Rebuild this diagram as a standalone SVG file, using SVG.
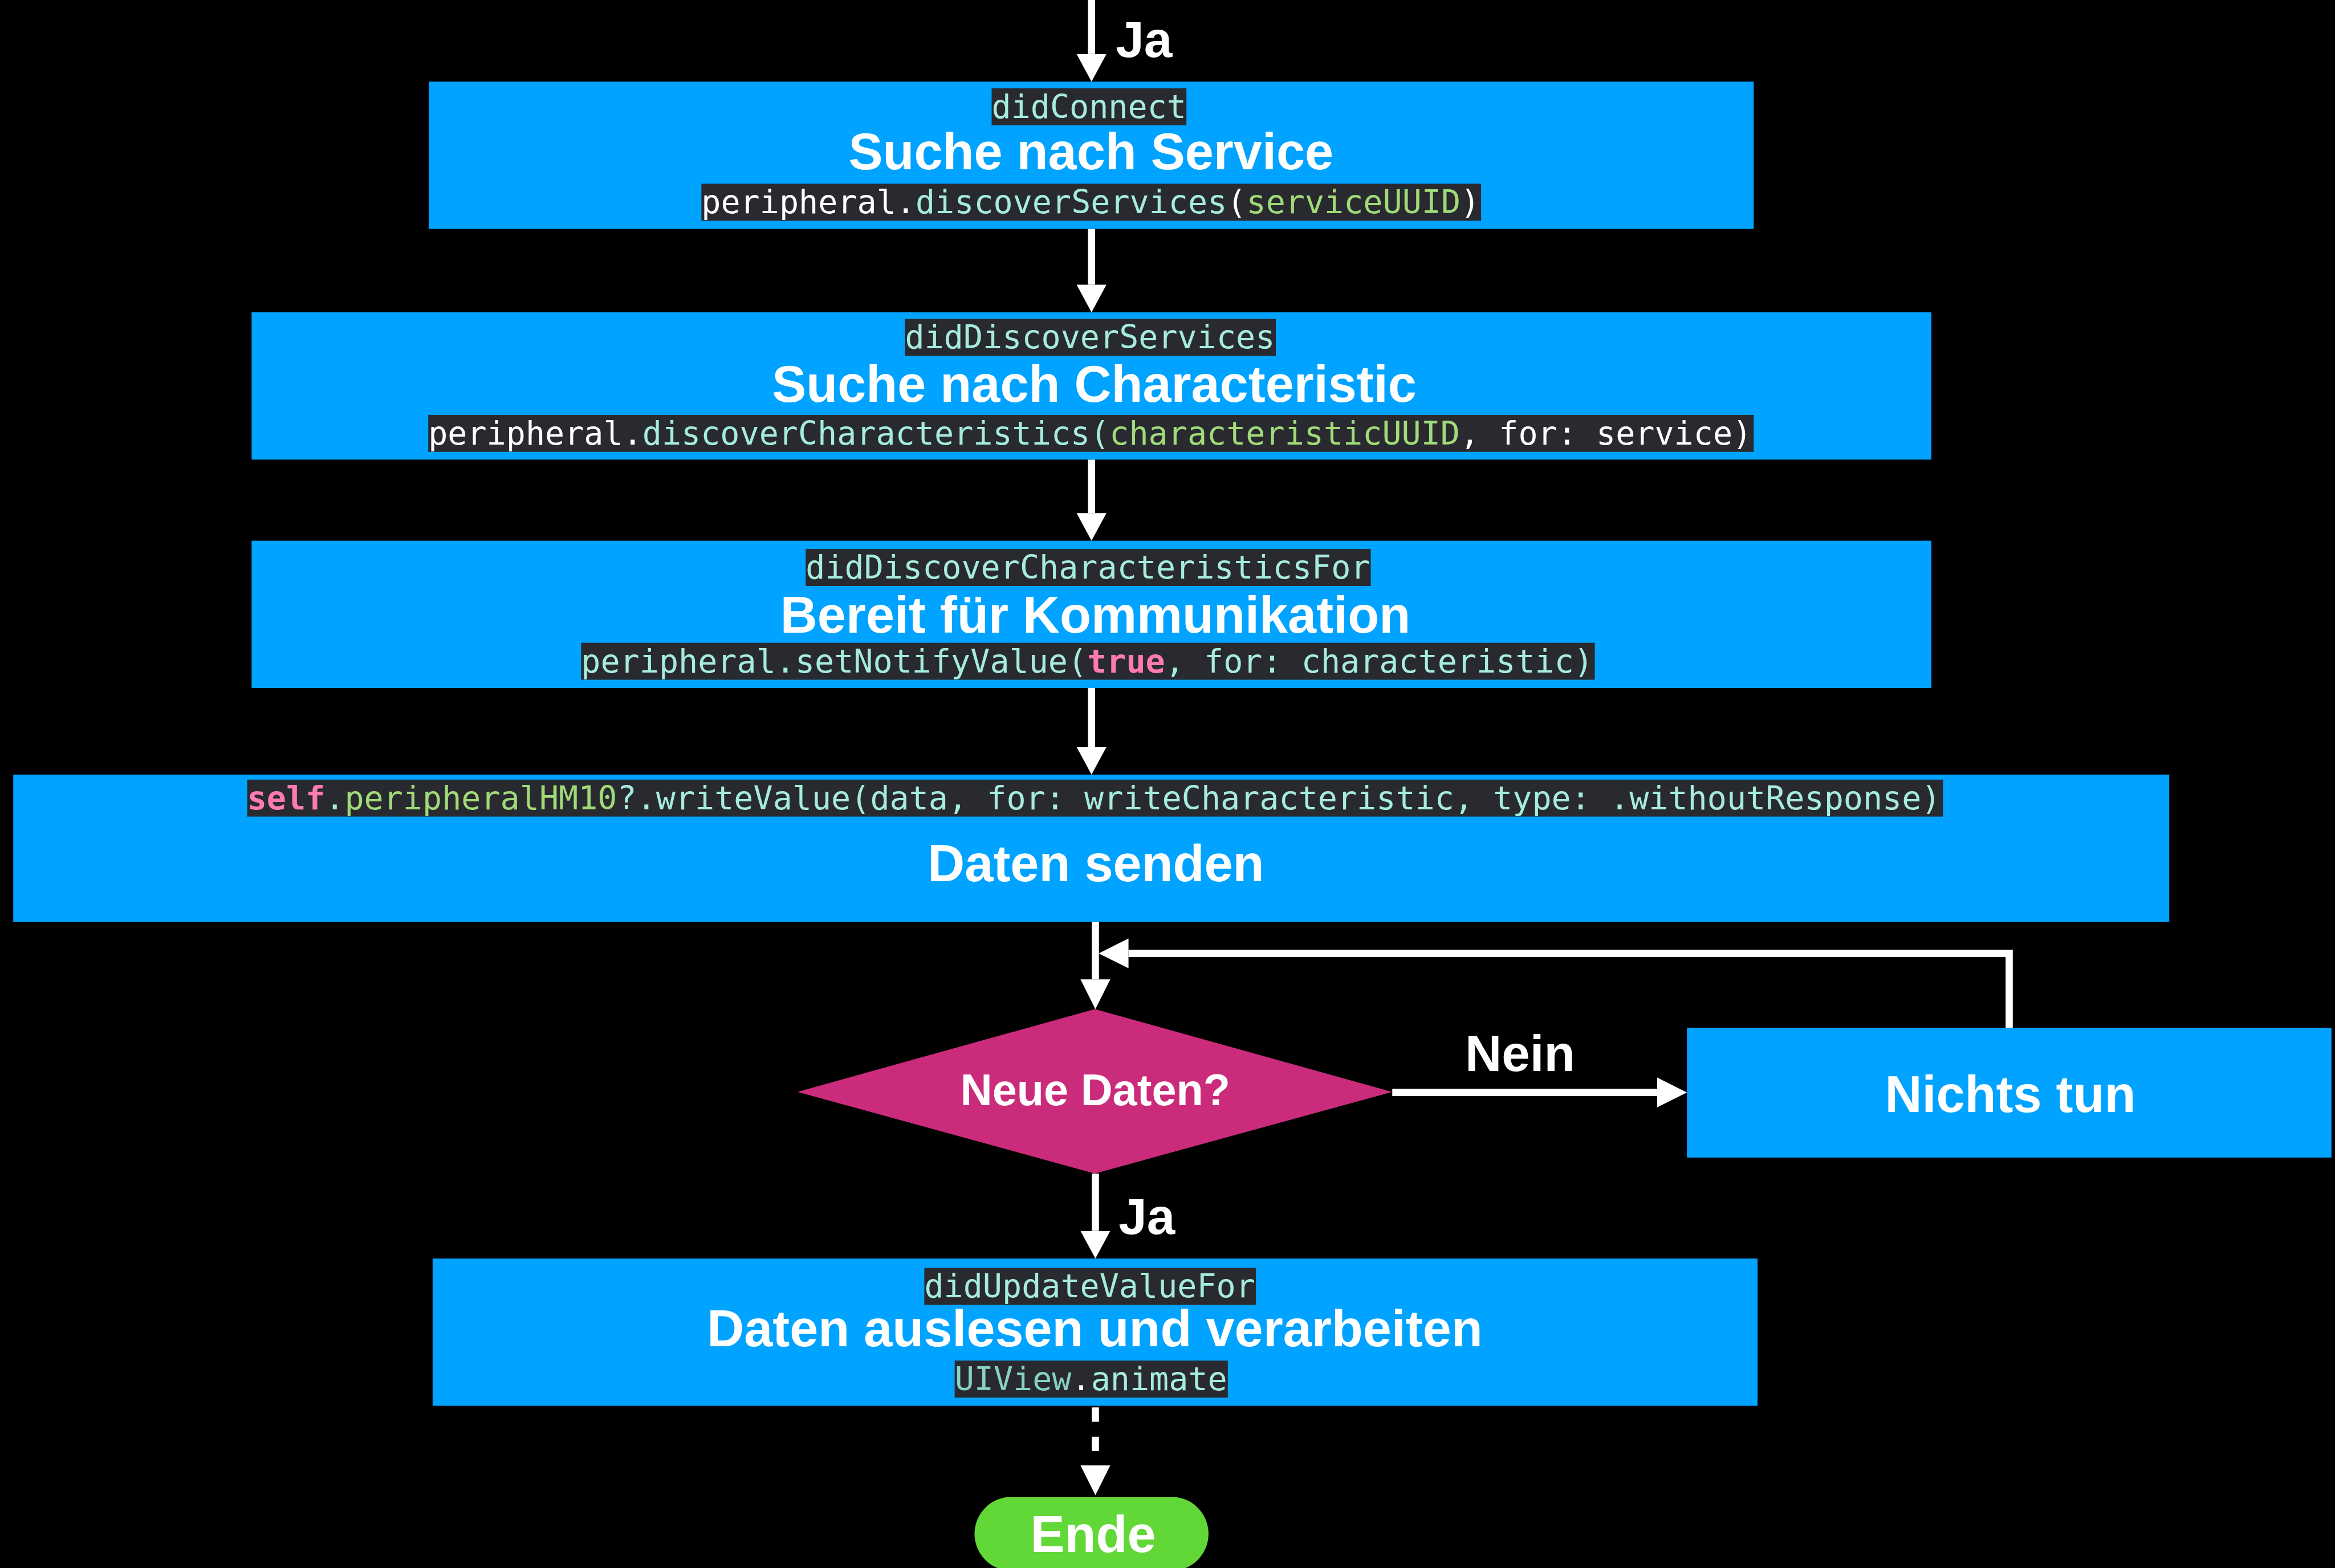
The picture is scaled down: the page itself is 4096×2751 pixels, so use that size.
<svg xmlns="http://www.w3.org/2000/svg" width="4096" height="2751" viewBox="0 0 4096 2751">
<defs>
<style>
.box{fill:#00A3FF}
.code{fill:#292A30}
.mono{font-family:"DejaVu Sans Mono","Liberation Mono",monospace;font-size:58.6px}
.title{font-family:"Liberation Sans",Arial,sans-serif;font-weight:bold;font-size:93px;fill:#FFFFFF;text-anchor:middle}
.lbl{font-family:"Liberation Sans",Arial,sans-serif;font-weight:bold;font-size:92px;fill:#FFFFFF}
.w{fill:#FFFFFF}
.m{fill:#A6ECDC}
.g{fill:#A1DA78}
.k{fill:#FF7AB2;font-weight:bold}
.c{fill:#87D2C2}
.conn{stroke:#FFFFFF;stroke-width:13;fill:none}
</style>
<marker id="ah" markerUnits="userSpaceOnUse" markerWidth="60" markerHeight="60" viewBox="0 -30 60 60" refX="0" refY="0" orient="auto">
<path d="M0,-27 L50,0 L0,27 Z" fill="#FFFFFF"/>
</marker>
<marker id="ah2" markerUnits="userSpaceOnUse" markerWidth="60" markerHeight="60" viewBox="0 -30 60 60" refX="0" refY="0" orient="auto">
<path d="M0,-27 L54,0 L0,27 Z" fill="#FFFFFF"/>
</marker>
</defs>
<rect x="0" y="0" width="4096" height="2751" fill="#000000"/>
<g transform="scale(0.968)">

<g id="connectors">
<path class="conn" d="M1978,0 V98" marker-end="url(#ah)"/>
<path class="conn" d="M1978,415 V516" marker-end="url(#ah)"/>
<path class="conn" d="M1978,833 V930" marker-end="url(#ah)"/>
<path class="conn" d="M1978,1247 V1354" marker-end="url(#ah)"/>
<path class="conn" d="M1985,1671 V1775" marker-end="url(#ah2)"/>
<path class="conn" d="M2523,1980 H3003" marker-end="url(#ah2)"/>
<path class="conn" d="M3641,1863 V1728 H2045" marker-end="url(#ah2)"/>
<path class="conn" d="M1985,2127 V2231" marker-end="url(#ah)"/>
<path class="conn" d="M1985,2551 V2656" stroke-dasharray="26 27" marker-end="url(#ah2)"/>
<text class="lbl" x="2022" y="103">Ja</text>
<text class="lbl" x="2027" y="2237">Ja</text>
<text class="lbl" x="2655" y="1941">Nein</text>
</g>

<g id="node-suche-service">
<rect class="box" x="777" y="148" width="2401" height="267"/>
<rect class="code" x="1797" y="160" width="353" height="67"/>
<text class="mono" x="1797" y="213.5"><tspan class="m">didConnect</tspan></text>
<text class="title" x="1977" y="307">Suche nach Service</text>
<rect class="code" x="1271" y="333" width="1413" height="67"/>
<text class="mono" x="1271" y="386.5" xml:space="preserve"><tspan class="w">peripheral.</tspan><tspan class="m">discoverServices</tspan><tspan class="w">(</tspan><tspan class="g">serviceUUID</tspan><tspan class="w">)</tspan></text>
</g>

<g id="node-suche-characteristic">
<rect class="box" x="456" y="566" width="3044" height="267"/>
<rect class="code" x="1640" y="578" width="672" height="67"/>
<text class="mono" x="1640" y="631.5"><tspan class="m">didDiscoverServices</tspan></text>
<text class="title" x="1983" y="728">Suche nach Characteristic</text>
<rect class="code" x="776" y="752" width="2402" height="67"/>
<text class="mono" x="776" y="805.5" xml:space="preserve"><tspan class="w">peripheral.</tspan><tspan class="m">discoverCharacteristics(</tspan><tspan class="g">characteristicUUID</tspan><tspan class="w">, for: service)</tspan></text>
</g>

<g id="node-bereit">
<rect class="box" x="456" y="980" width="3044" height="267"/>
<rect class="code" x="1460" y="995" width="1024" height="67"/>
<text class="mono" x="1460" y="1048.5"><tspan class="m">didDiscoverCharacteristicsFor</tspan></text>
<text class="title" x="1985" y="1147">Bereit für Kommunikation</text>
<rect class="code" x="1053" y="1165" width="1837" height="67"/>
<text class="mono" x="1053" y="1218.5" xml:space="preserve"><tspan class="m">peripheral.setNotifyValue(</tspan><tspan class="k">true</tspan><tspan class="m">, for: characteristic)</tspan></text>
</g>

<g id="node-daten-senden">
<rect class="box" x="24" y="1404" width="3907" height="267"/>
<rect class="code" x="448" y="1413" width="3073" height="67"/>
<text class="mono" x="448" y="1466.5" xml:space="preserve"><tspan class="k">self</tspan><tspan class="m">.</tspan><tspan class="g">peripheralHM10</tspan><tspan class="m">?.writeValue(data, for: writeCharacteristic, type: .withoutResponse)</tspan></text>
<text class="title" x="1986" y="1597">Daten senden</text>
</g>

<g id="node-neue-daten">
<polygon points="1445,1979 1984,1829 2523,1979 1984,2127" fill="#CB2B7B"/>
<text class="title" x="1985" y="2003" style="font-size:80px">Neue Daten?</text>
</g>

<g id="node-nichts-tun">
<rect class="box" x="3057" y="1863" width="1168" height="235"/>
<text class="title" x="3643" y="2016">Nichts tun</text>
</g>

<g id="node-daten-auslesen">
<rect class="box" x="784" y="2281" width="2401" height="267"/>
<rect class="code" x="1675" y="2298" width="601" height="67"/>
<text class="mono" x="1675" y="2351.5"><tspan class="m">didUpdateValueFor</tspan></text>
<text class="title" x="1984" y="2440">Daten auslesen und verarbeiten</text>
<rect class="code" x="1730" y="2466" width="495" height="67"/>
<text class="mono" x="1730" y="2519.5"><tspan class="c">UIView</tspan><tspan class="w">.</tspan><tspan class="m">animate</tspan></text>
</g>

<g id="node-ende">
<rect x="1766" y="2713" width="424" height="134" rx="67" ry="67" fill="#62D838"/>
<text class="title" x="1981" y="2813">Ende</text>
</g>

</g>
</svg>
